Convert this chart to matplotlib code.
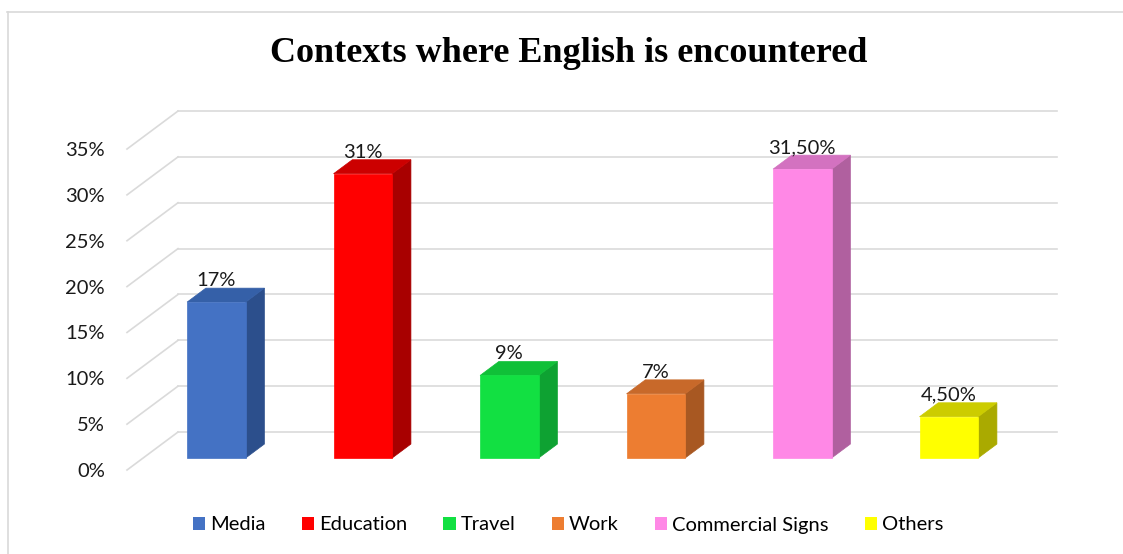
import matplotlib
matplotlib.use('Agg')
import matplotlib.pyplot as plt
from matplotlib.patches import Polygon, Patch
from matplotlib.lines import Line2D

plt.rcParams['font.family'] = ['Lato', 'DejaVu Sans']

# data
categories = ['Media', 'Education', 'Travel', 'Work', 'Commercial Signs', 'Others']
values = [17, 31, 9, 7, 31.5, 4.5]
yticks = [0, 5, 10, 15, 20, 25, 30, 35]

front_colors = ['#4472C4', '#FF0000', '#12E042', '#ED7D31', '#FF88E6', '#FFFF00']
top_colors = ['#3560A8', '#CC0000', '#10C038', '#C8692A', '#D372C0', '#CCCC00']
side_colors = ['#2C4F8C', '#A80000', '#0EA232', '#A85822', '#B0609F', '#AAAA00']


def pct(v):
    if float(v).is_integer():
        return f'{int(v)}%'
    return f'{v:.2f}'.replace('.', ',') + '%'


# oblique projection: depth of the wall in (category, percent) units
DX, DY = 0.348, 4.14
D0, D1 = 0.316, 0.684   # bar front / back as fraction of the depth
BW = 0.40               # bar width


def proj(x, y, d):
    return (x + d * DX, y + d * DY)


fig = plt.figure(figsize=(11.23, 5.54), dpi=100)
ax = fig.add_axes([0.1131, 0.1516, 0.7827, 0.5794])
ax.set_xlim(-0.5, 5.5)
ax.set_ylim(0, 35)
for s in ax.spines.values():
    s.set_visible(False)
ax.set_xticks([])
ax.set_yticks(yticks)
ax.set_yticklabels([pct(t) for t in yticks])
ax.tick_params(axis='y', length=0, pad=16, labelsize=14.5, labelcolor='#1a1a1a')

# side wall + back wall gridlines
grid_kw = dict(color='#dadada', lw=1.2, clip_on=False, zorder=0)
for t in yticks:
    ax.plot([-0.5, -0.5 + DX], [t, t + DY], **grid_kw)
    ax.plot([-0.5 + DX, 5.5 + DX], [t + DY, t + DY], **grid_kw)

# 3d-looking columns
for i, v in enumerate(values):
    x0, x1 = i - BW / 2, i + BW / 2
    side = [proj(x1, 0, D0), proj(x1, 0, D1), proj(x1, v, D1), proj(x1, v, D0)]
    top = [proj(x0, v, D0), proj(x1, v, D0), proj(x1, v, D1), proj(x0, v, D1)]
    front = [proj(x0, 0, D0), proj(x1, 0, D0), proj(x1, v, D0), proj(x0, v, D0)]
    for pts, c in [(side, side_colors[i]), (top, top_colors[i]), (front, front_colors[i])]:
        ax.add_patch(Polygon(pts, closed=True, facecolor=c, edgecolor=c,
                             lw=0.5, clip_on=False, zorder=2))
    lx, ly = proj(i, v, D1)
    ax.text(i + D0 * DX, ly - 0.1, pct(v), ha='center', va='bottom',
            fontsize=14.5, color='#1a1a1a', zorder=3)

fig.text(0.506, 1 - 53 / 554, 'Contexts where English is encountered',
         ha='center', va='center', fontsize=26, fontweight='bold',
         family='Liberation Serif')

handles = [Patch(facecolor=c, edgecolor='none') for c in front_colors]
fig.legend(handles, categories, loc='center', bbox_to_anchor=(0.506, 1 - 525 / 554),
           ncol=6, frameon=False, fontsize=14.5, handlelength=0.6, handleheight=0.6,
           handletextpad=0.25, columnspacing=1.8)

# outer frame (top and left edges only)
fig.add_artist(Line2D([7 / 1123, 1], [1 - 11.5 / 554, 1 - 11.5 / 554],
                      transform=fig.transFigure, color='#d9d9d9', lw=1.2))
fig.add_artist(Line2D([7.5 / 1123, 7.5 / 1123], [0, 1 - 11.5 / 554],
                      transform=fig.transFigure, color='#d9d9d9', lw=1.2))

fig.savefig('out.png', dpi=100, facecolor='white')
